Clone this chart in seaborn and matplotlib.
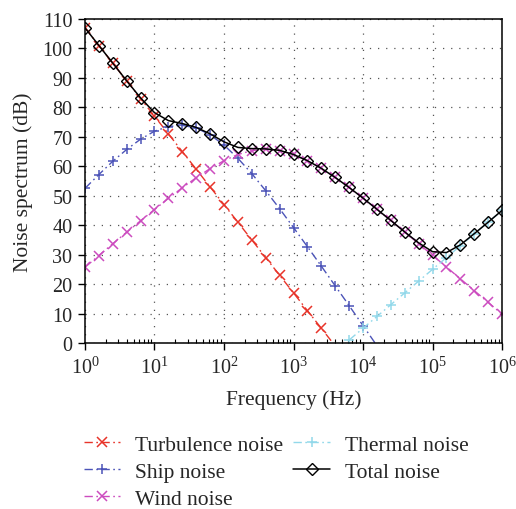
import matplotlib
matplotlib.use("Agg")
import matplotlib.pyplot as plt
import seaborn as sns
import numpy as np

# Frequency grid: five points per decade, 1 Hz to 1 MHz (log10 exponents)
log_freq = [0.0, 0.2, 0.4, 0.6, 0.8, 1.0, 1.2, 1.4, 1.6, 1.8, 2.0, 2.2, 2.4, 2.6,
            2.8, 3.0, 3.2, 3.4, 3.6, 3.8, 4.0, 4.2, 4.4, 4.6, 4.8, 5.0, 5.2, 5.4,
            5.6, 5.8, 6.0]

# Noise spectrum levels (dB)
turbulence = [107, 101, 95, 89, 83, 77, 71, 65, 59, 53, 47, 41, 35, 29, 23, 17,
              11, 5, -1]
ship = [52.5, 57.2, 61.7, 65.7, 69.2, 71.9, 73.5, 73.9, 73.0, 70.7, 67.2, 62.7,
        57.5, 51.7, 45.6, 39.2, 32.7, 26.1, 19.4, 12.7, 5.9, -0.9]
wind = [25.7, 29.7, 33.7, 37.6, 41.5, 45.3, 49.1, 52.7, 56.1, 59.2, 61.9, 64.0,
        65.3, 65.8, 65.3, 64.0, 61.9, 59.3, 56.2, 52.8, 49.2, 45.4, 41.6, 37.7,
        33.7, 29.8, 25.8, 21.8, 17.8, 13.8, 9.8]
thermal_log_freq = [3.8, 4.0, 4.2, 4.4, 4.6, 4.8, 5.0, 5.2, 5.4, 5.6, 5.8, 6.0]
thermal = [1, 5, 9, 13, 17, 21, 25, 29, 33, 37, 41, 45]
total = [107.0, 101.0, 95.0, 89.0, 83.2, 78.2, 75.5, 74.5, 73.2, 71.0, 68.3,
         66.4, 66.0, 65.9, 65.4, 64.0, 61.9, 59.3, 56.2, 52.8, 49.2, 45.4, 41.6,
         37.7, 34.0, 31.0, 30.7, 33.3, 37.1, 41.0, 45.0]

labels = ["Turbulence noise", "Ship noise", "Wind noise", "Thermal noise",
          "Total noise"]
colors = ["#e8342a", "#4c54b8", "#cc4cbf", "#92d8ea", "#000000"]

sns.set_theme(style="white")
plt.rcParams["font.family"] = ["Liberation Serif", "DejaVu Serif"]
plt.rcParams["mathtext.fontset"] = "custom"
plt.rcParams["mathtext.rm"] = "Liberation Serif"
plt.rcParams["mathtext.it"] = "Liberation Serif:italic"

fig = plt.figure(figsize=(5.16, 5.10), dpi=100)
ax = fig.add_axes([0.1647, 0.3255, 0.8082, 0.6353])

dashdot = (0, (6, 2.5, 1.2, 2.5))


def freq(exps):
    return [10.0 ** e for e in exps]


def visible(vals):
    return [i for i, v in enumerate(vals) if v >= 0]


series = [
    (log_freq[:len(turbulence)], turbulence, "x", 0),
    (log_freq[:len(ship)], ship, "+", 1),
    (log_freq, wind, "x", 2),
    (thermal_log_freq, thermal, "+", 3),
]
for exps, vals, mk, k in series:
    sns.lineplot(x=freq(exps), y=vals, ax=ax, color=colors[k], marker=mk,
                 markersize=7, markeredgewidth=1.1, markeredgecolor=colors[k],
                 linewidth=1.0, linestyle=dashdot, markevery=visible(vals),
                 label=labels[k], sort=False, estimator=None)

sns.lineplot(x=freq(log_freq), y=total, ax=ax, color="black", marker="D",
             markersize=6, markerfacecolor="none", markeredgecolor="black",
             markeredgewidth=1.0, linewidth=1.1, label=labels[4], sort=False,
             estimator=None)

ax.set_xscale("log")
ax.set_xlim(1, 1e6)
ax.set_ylim(0, 110)
ax.set_yticks(np.arange(0, 111, 10))
ax.xaxis.set_major_locator(matplotlib.ticker.LogLocator(base=10, numticks=10))
ax.xaxis.set_minor_locator(matplotlib.ticker.LogLocator(base=10,
                                                        subs=np.arange(2, 10),
                                                        numticks=20))
ax.xaxis.set_minor_formatter(matplotlib.ticker.NullFormatter())

ax.grid(True, which="major", color="#555555", linestyle=(0, (1, 5.5)),
        linewidth=0.9)
for s in ax.spines.values():
    s.set_color("black")
    s.set_linewidth(1.1)

ax.tick_params(axis="both", which="major", direction="out", length=5,
               width=1.0, color="black", labelsize=14.5, bottom=True,
               left=True)
ax.tick_params(axis="x", which="major", pad=5)
ax.tick_params(axis="y", which="major", pad=4)
ax.tick_params(axis="x", which="minor", direction="in", length=3, width=0.8,
               color="black", bottom=True)

ax.set_xlabel("Frequency (Hz)", fontsize=15.5, labelpad=8)
ax.set_ylabel("Noise spectrum (dB)", fontsize=15.5, labelpad=7)

leg = ax.legend(loc="upper left", bbox_to_anchor=(-0.003, -0.283), ncol=2,
                frameon=False, fontsize=15.5, handlelength=1.7,
                columnspacing=0.45, handletextpad=0.7, labelspacing=0.32,
                borderpad=0.0, borderaxespad=0.0)

fig.savefig("out.png", dpi=100)
